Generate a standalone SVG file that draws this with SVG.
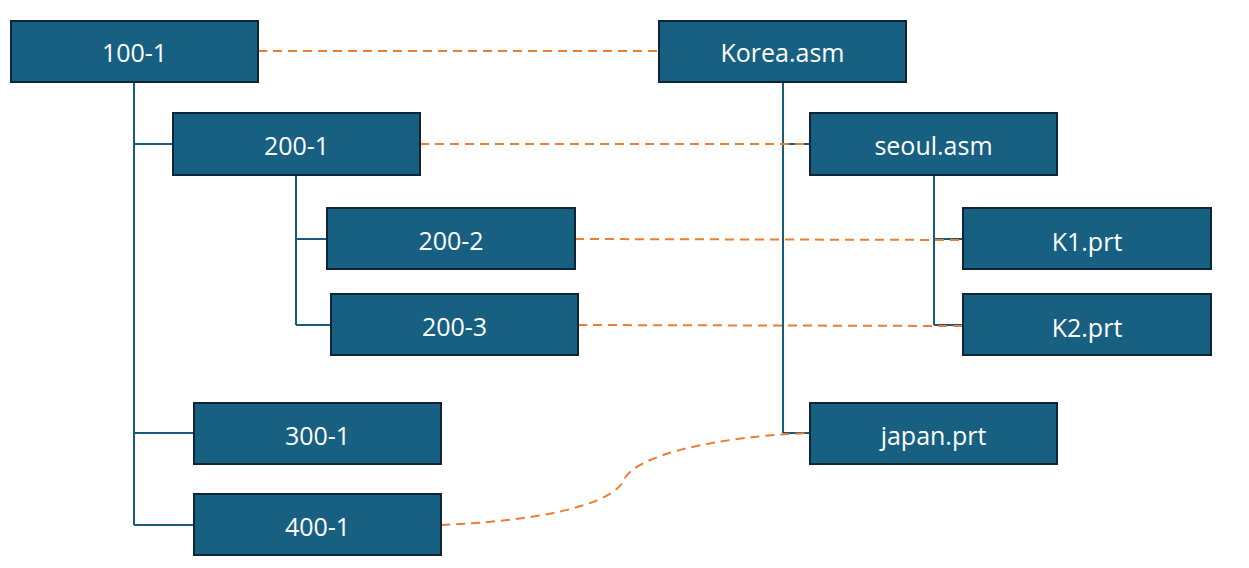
<svg xmlns="http://www.w3.org/2000/svg" width="1249" height="568" viewBox="0 0 1249 568">
<style>
.box{fill:#176082;stroke:#0d2535;stroke-width:2}
.lbl{fill:#ffffff;font-family:"Open Sans","Noto Sans",sans-serif;font-size:25px;text-anchor:middle;dominant-baseline:central}
.tree{fill:none;stroke:#1a5a7c;stroke-width:2}
.dash{fill:none;stroke:#ED7D31;stroke-width:2;stroke-dasharray:9 6}
</style>
<rect width="1249" height="568" fill="#ffffff"/>
<g id="connectors">
<path class="tree" d="M134,82 V525 M134,144 H173 M134,433 H194 M134,525 H194"/>
<path class="tree" d="M296,175 V325 M296,239 H327 M296,325 H331"/>
<path class="tree" d="M783,82 V433 M783,144 H810 M783,433 H810"/>
<path class="tree" d="M934,175 V325 M934,239 H963 M934,325 H963"/>
<path class="dash" d="M258,51 H659"/>
<path class="dash" d="M420,144 H810"/>
<path class="dash" d="M575,239 L963,240"/>
<path class="dash" d="M578,325 L963,326"/>
<path class="dash" d="M441,525 C560,520 615,500 624,480 C634,455 720,436 810,433"/>
</g>
<g id="n100-1"><rect class="box" x="11" y="21" width="247" height="61"/><text class="lbl" x="134.5" y="52">100-1</text></g>
<g id="korea"><rect class="box" x="659" y="21" width="247" height="61"/><text class="lbl" x="782.5" y="52">Korea.asm</text></g>
<g id="n200-1"><rect class="box" x="173" y="113" width="247" height="62"/><text class="lbl" x="296.5" y="145">200-1</text></g>
<g id="seoul"><rect class="box" x="810" y="113" width="247" height="62"/><text class="lbl" x="933.5" y="145">seoul.asm</text></g>
<g id="n200-2"><rect class="box" x="327" y="208" width="248" height="61"/><text class="lbl" x="451" y="240">200-2</text></g>
<g id="k1"><rect class="box" x="963" y="208" width="248" height="61"/><text class="lbl" x="1087" y="241">K1.prt</text></g>
<g id="n200-3"><rect class="box" x="331" y="294" width="247" height="61"/><text class="lbl" x="454.5" y="326">200-3</text></g>
<g id="k2"><rect class="box" x="963" y="294" width="248" height="61"/><text class="lbl" x="1087" y="327">K2.prt</text></g>
<g id="n300-1"><rect class="box" x="194" y="403" width="247" height="61"/><text class="lbl" x="317.5" y="435">300-1</text></g>
<g id="japan"><rect class="box" x="810" y="403" width="247" height="61"/><text class="lbl" x="933.5" y="435">japan.prt</text></g>
<g id="n400-1"><rect class="box" x="194" y="494" width="247" height="61"/><text class="lbl" x="317.5" y="526">400-1</text></g>
</svg>
